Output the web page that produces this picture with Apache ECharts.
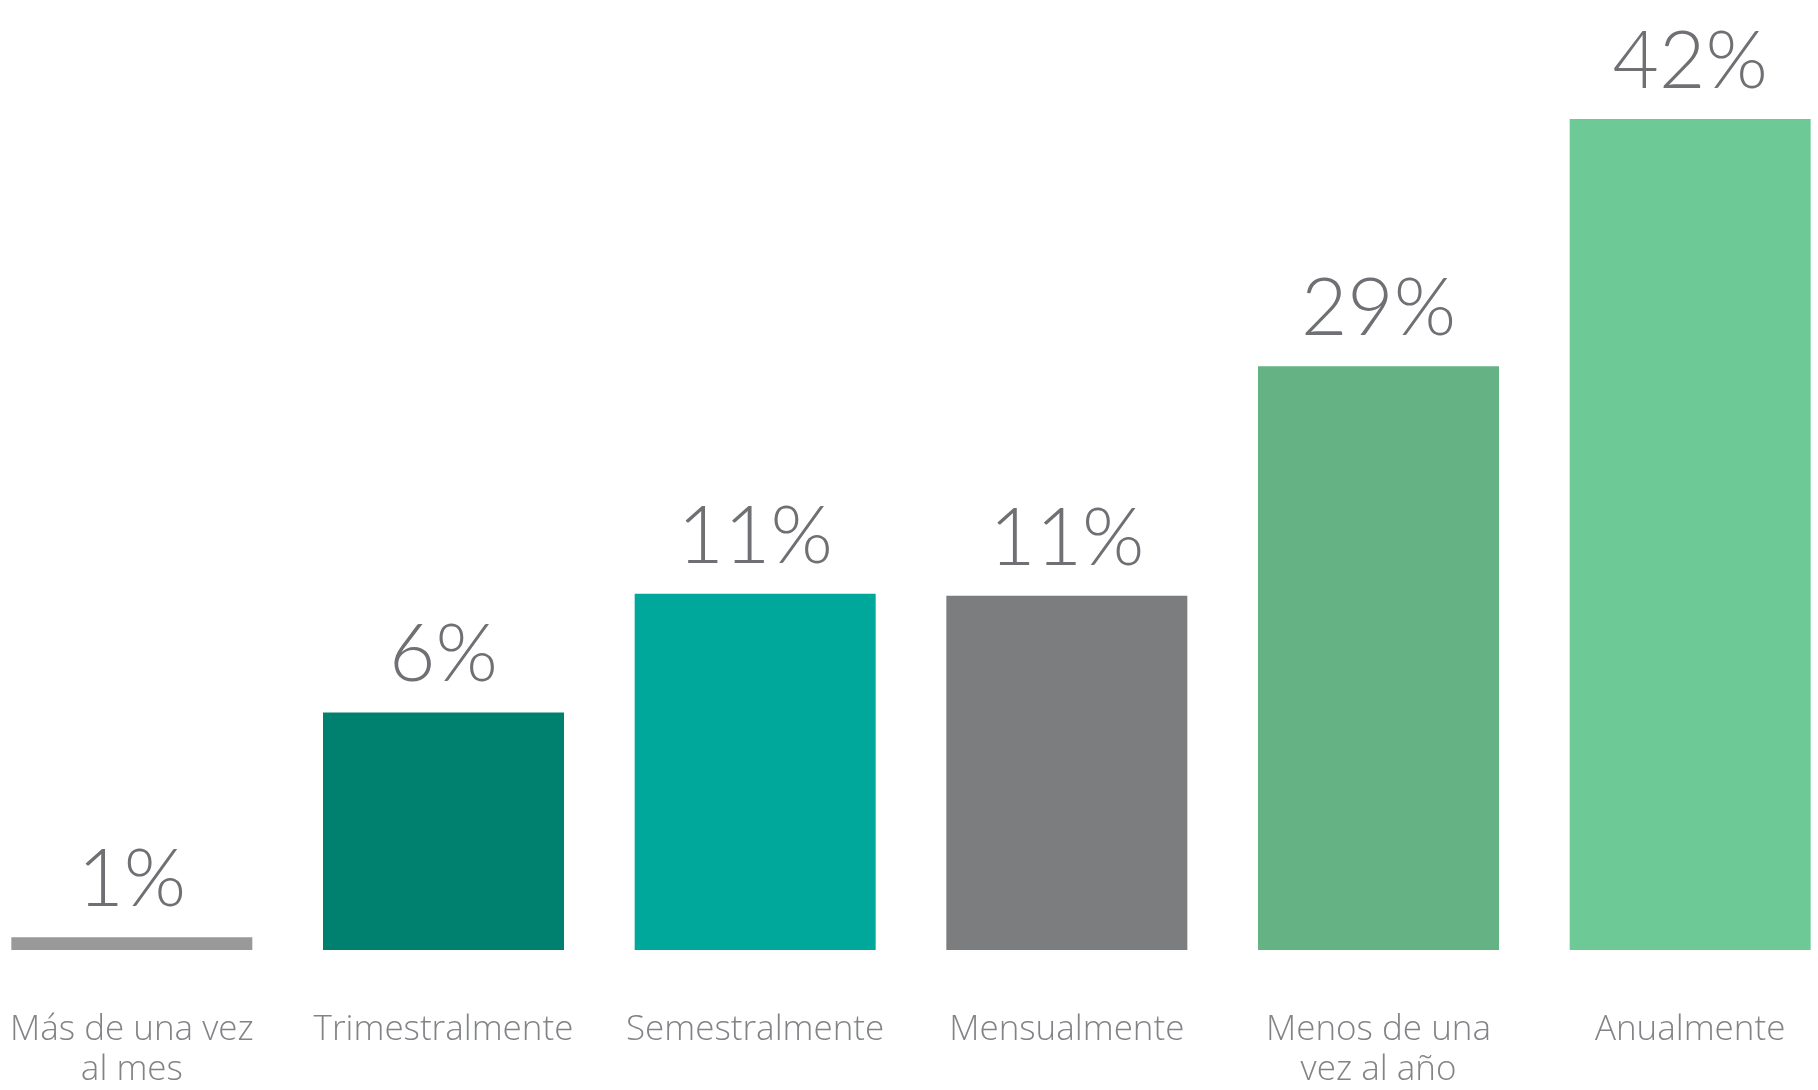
<!DOCTYPE html>
<html>
<head>
<meta charset="utf-8">
<script src="https://cdn.jsdelivr.net/npm/echarts@6/dist/echarts.min.js"></script>
<style>html,body{margin:0;padding:0;background:#fff}#wrap{width:1818px;height:1090px;overflow:hidden}#c{margin-left:-24px;width:1870px;height:1090px}</style>
</head>
<body>
<div id="wrap"><div id="c"></div></div>
<script>
const categories = ['Más de una vez\nal mes', 'Trimestralmente', 'Semestralmente', 'Mensualmente', 'Menos de una\nvez al año', 'Anualmente'];
const percentLabels = [1, 6, 11, 11, 29, 42];
// bar lengths as drawn in the picture (not proportional to the printed percentages)
const barLengths = [0.65, 12, 18, 17.9, 29.5, 42];
const barColors = ['#999999', '#00806f', '#00a89c', '#7c7d7f', '#65b385', '#6dca97'];

const chart = echarts.init(document.getElementById('c'), null, {renderer: 'canvas', width: 1870, height: 1090});
chart.setOption({
  animation: false,
  backgroundColor: '#ffffff',
  grid: {left: 0, right: 0, top: 119, bottom: 133, containLabel: false},
  xAxis: {
    type: 'category',
    data: categories,
    axisLine: {show: false},
    axisTick: {show: false},
    axisLabel: {
      interval: 0,
      margin: 60,
      color: '#828386',
      fontFamily: 'Open Sans',
      fontWeight: 300,
      fontSize: 35,
      lineHeight: 40,
      verticalAlign: 'top'
    }
  },
  yAxis: {type: 'value', min: 0, max: 42, show: false, splitLine: {show: false}},
  series: [{
    type: 'bar',
    barWidth: 241,
    data: barLengths.map((v, i) => ({value: v, itemStyle: {color: barColors[i]}, label: {formatter: percentLabels[i] + '%'}})),
    label: {
      show: true,
      position: 'top',
      distance: 17,
      color: '#6f7073',
      fontFamily: 'Lato',
      fontWeight: 300,
      fontSize: 80
    }
  }]
});
</script>
</body>
</html>
